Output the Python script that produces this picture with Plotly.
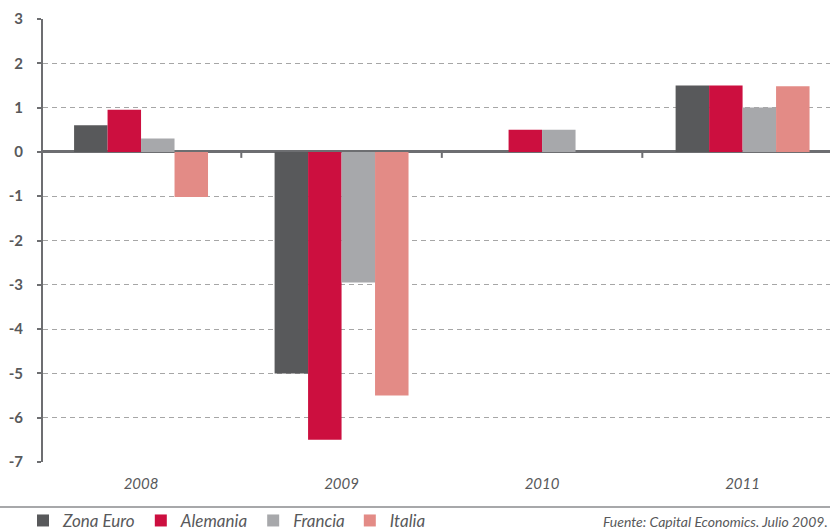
import plotly.graph_objects as go

years = ["2008", "2009", "2010", "2011"]
zona_euro = [0.6, -5.0, 0.0, 1.5]
alemania = [0.95, -6.5, 0.5, 1.5]
francia = [0.3, -2.95, 0.5, 1.0]
italia = [-1.02, -5.5, 0.0, 1.48]

series_names = ["Zona Euro", "Alemania", "Francia", "Italia"]
series_values = [zona_euro, alemania, francia, italia]
series_colors = ["#58595b", "#cc0f3f", "#a7a8ab", "#e38b86"]

y_tickvals = [3, 2, 1, 0, -1, -2, -3, -4, -5, -6, -7]
y_ticktext = ["3", "2", "1", "0", "-1", "-2", "-3", "-4", "-5", "-6", "-7"]

source_text = "Fuente: Capital Economics. Julio 2009."

FONT = "Lato, 'Open Sans', sans-serif"
AXIS_GRAY = "#6d6e71"
TEXT_GRAY = "#58595b"

fig = go.Figure()
for name, vals, col in zip(series_names, series_values, series_colors):
    fig.add_trace(go.Bar(x=years, y=vals, name=name, marker=dict(color=col, line=dict(width=0))))

# small tick marks on the zero line between categories
for i in range(len(years) - 1):
    fig.add_shape(type="line", xref="x", yref="y", x0=i + 0.5, x1=i + 0.5,
                  ysizemode="pixel", yanchor=0, y0=0, y1=-6,
                  line=dict(color=AXIS_GRAY, width=2))

# separator line above legend
fig.add_shape(type="line", xref="paper", yref="paper", x0=-0.06, x1=1.0,
              y0=-0.1016, y1=-0.1016, line=dict(color="#8a8b8e", width=1.5))

fig.add_annotation(text=source_text, xref="paper", yref="paper",
                   x=1.0, y=-0.1354, xanchor="right", yanchor="middle",
                   showarrow=False,
                   font=dict(family=FONT, size=14, color=TEXT_GRAY, style="italic"))

fig.update_layout(
    width=830, height=532,
    margin=dict(l=43, r=0, t=19, b=70, autoexpand=False),
    paper_bgcolor="white", plot_bgcolor="white",
    barmode="group", bargap=0.332, bargroupgap=0,
    font=dict(family=FONT, color=TEXT_GRAY),
    legend=dict(orientation="h", x=-0.0254, y=-0.133, xanchor="left", yanchor="middle",
                font=dict(family=FONT, size=17, color=TEXT_GRAY, style="italic"),
                itemwidth=30, tracegroupgap=0, bgcolor="rgba(0,0,0,0)"),
    xaxis=dict(range=[-0.489, 3.436], showline=False, showgrid=False, zeroline=False,
               automargin=False,
               ticks="", tickfont=dict(family=FONT, size=15, color=TEXT_GRAY, style="italic"),
               ticklabelstandoff=11, fixedrange=True),
    yaxis=dict(range=[-7, 3], tickvals=y_tickvals, ticktext=y_ticktext,
               automargin=False,
               showline=True, linecolor=AXIS_GRAY, linewidth=2,
               ticks="outside", ticklen=4, tickwidth=2, tickcolor=AXIS_GRAY,
               showgrid=True, gridcolor="#a6a6a6", gridwidth=1, griddash="5px,4px",
               zeroline=True, zerolinecolor=AXIS_GRAY, zerolinewidth=2.5,
               tickfont=dict(family=FONT, size=15, color=TEXT_GRAY, weight="bold"),
               ticklabelstandoff=11, fixedrange=True),
)

fig.write_html("out.html", config={"displayModeBar": False},
               post_script="document.body.style.margin='0';document.body.style.overflow='hidden';")
